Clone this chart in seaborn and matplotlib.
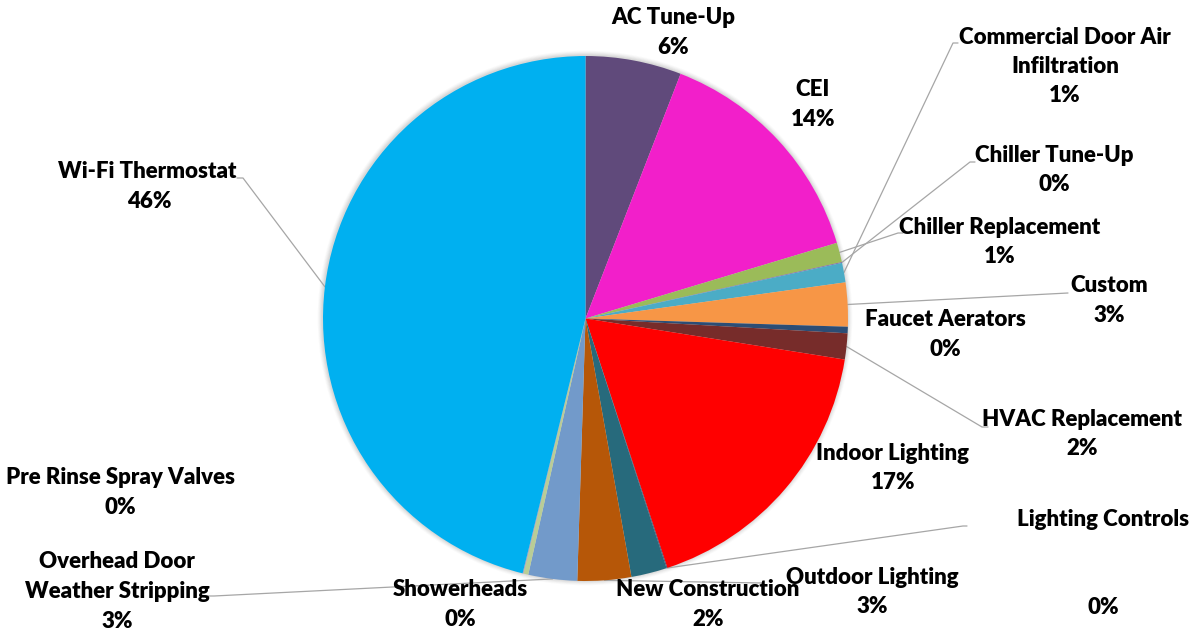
import numpy as np
import matplotlib
matplotlib.use("Agg")
import matplotlib.pyplot as plt
import seaborn as sns

# Share of program savings by measure (percent)
measures = [
    "AC Tune-Up", "CEI", "Chiller Replacement", "Chiller Tune-Up",
    "Commercial Door Air Infiltration", "Custom", "Faucet Aerators",
    "HVAC Replacement", "Indoor Lighting", "Lighting Controls",
    "New Construction", "Outdoor Lighting", "Overhead Door Weather Stripping",
    "Pre Rinse Spray Valves", "Showerheads", "Wi-Fi Thermostat",
]
shares = [5.9, 14.45, 1.2, 0.05, 1.2, 2.7, 0.4, 1.6, 17.45, 0.05,
          2.2, 3.3, 3.0, 0.3, 0.05, 46.15]
colors = ["#604A7B", "#F21FCA", "#9BBB59", "#8064A2", "#4BACC6", "#F79646",
          "#2C4D75", "#772C2A", "#FF0000", "#4D3B62", "#276A7C", "#B65708",
          "#729ACA", "#B9CD96", "#A99BBD", "#00B0F0"]

# Label text as printed, split into lines
label_lines = {
    "Commercial Door Air Infiltration": ["Commercial Door Air", "Infiltration"],
    "Overhead Door Weather Stripping": ["Overhead Door", "Weather Stripping"],
}
# (center x, center y of first line) of each label block, image pixels
label_pos = {
    "AC Tune-Up": (673, 18),
    "CEI": (813, 90),
    "Commercial Door Air Infiltration": (1065, 37),
    "Chiller Tune-Up": (1054, 155),
    "Chiller Replacement": (1000, 227),
    "Custom": (1109, 286),
    "Faucet Aerators": (945, 320),
    "HVAC Replacement": (1082, 419),
    "Indoor Lighting": (893, 453),
    "Lighting Controls": (1103, 520),
    "Outdoor Lighting": (872, 577),
    "New Construction": (708, 590),
    "Showerheads": (460, 590),
    "Pre Rinse Spray Valves": (120, 478),
    "Overhead Door Weather Stripping": (117, 562),
    "Wi-Fi Thermostat": (147, 172),
}
LINE_STEP = 29.5
# percentage placed apart from its name
pct_pos = {"Lighting Controls": (1103, 607), "Wi-Fi Thermostat": (149, 201)}
# leader-line start points in image pixels
leader_start = {
    "Wi-Fi Thermostat": [(237, 178), (243, 178)],
    "Overhead Door Weather Stripping": [(208, 596), (214, 596)],
    "Commercial Door Air Infiltration": [(958, 43), (953, 43)],
    "Chiller Tune-Up": [(975, 162), (970, 162)],
    "Chiller Replacement": [(903, 233), (898, 233)],
    "Custom": [(1068, 293)],
    "HVAC Replacement": [(988, 427), (982, 427)],
    "Lighting Controls": [(967, 526), (963, 526)],
    "Outdoor Lighting": [(763, 583)],
}

W, H = 1200, 633
sns.set_theme(style="white")
plt.rcParams["font.family"] = ["Lato", "DejaVu Sans"]

fig = plt.figure(figsize=(W / 100, H / 100), dpi=100)
ax = fig.add_axes([0, 0, 1, 1])

cx, cy, R = 585.5, H - 318.5, 262.5

# soft drop shadow around the pie
for k, a in zip(range(6, 0, -1), [0.03, 0.04, 0.05, 0.06, 0.07, 0.08]):
    ax.add_patch(plt.Circle((cx - 0.5, cy + 0.5), R + k * 0.8, color="#7F7F7F",
                            alpha=a, lw=0, zorder=0))

wedges, _ = ax.pie(shares, colors=colors, startangle=90, counterclock=False,
                   center=(cx, cy), radius=R, frame=True,
                   wedgeprops=dict(linewidth=0, antialiased=True))
for w in wedges:
    w.set_zorder(2)

total = sum(shares)
text_kw = dict(ha="center", va="center", fontsize=16, fontweight="heavy",
               color="black", zorder=5)
for name, val, w in zip(measures, shares, wedges):
    pct = f"{round(val / total * 100):.0f}%"
    x, y0 = label_pos[name]
    lines = label_lines.get(name, [name])
    for i, line in enumerate(lines):
        ax.text(x, H - (y0 + i * LINE_STEP), line, **text_kw)
    if name in pct_pos:
        px, py = pct_pos[name]
    else:
        px, py = x, y0 + len(lines) * LINE_STEP
    ax.text(px, H - py, pct, **text_kw)
    if name in leader_start:
        mid = np.deg2rad((w.theta1 + w.theta2) / 2)
        ex, ey = cx + R * np.cos(mid), cy + R * np.sin(mid)
        pts = leader_start[name]
        xs = [p[0] for p in pts] + [ex]
        ys = [H - p[1] for p in pts] + [ey]
        ax.plot(xs, ys, color="#A6A6A6", lw=0.9, zorder=1.5)

ax.set_xlim(0, W)
ax.set_ylim(0, H)
ax.set_aspect("equal")
ax.axis("off")
fig.savefig("out.png", dpi=100, facecolor="white")
